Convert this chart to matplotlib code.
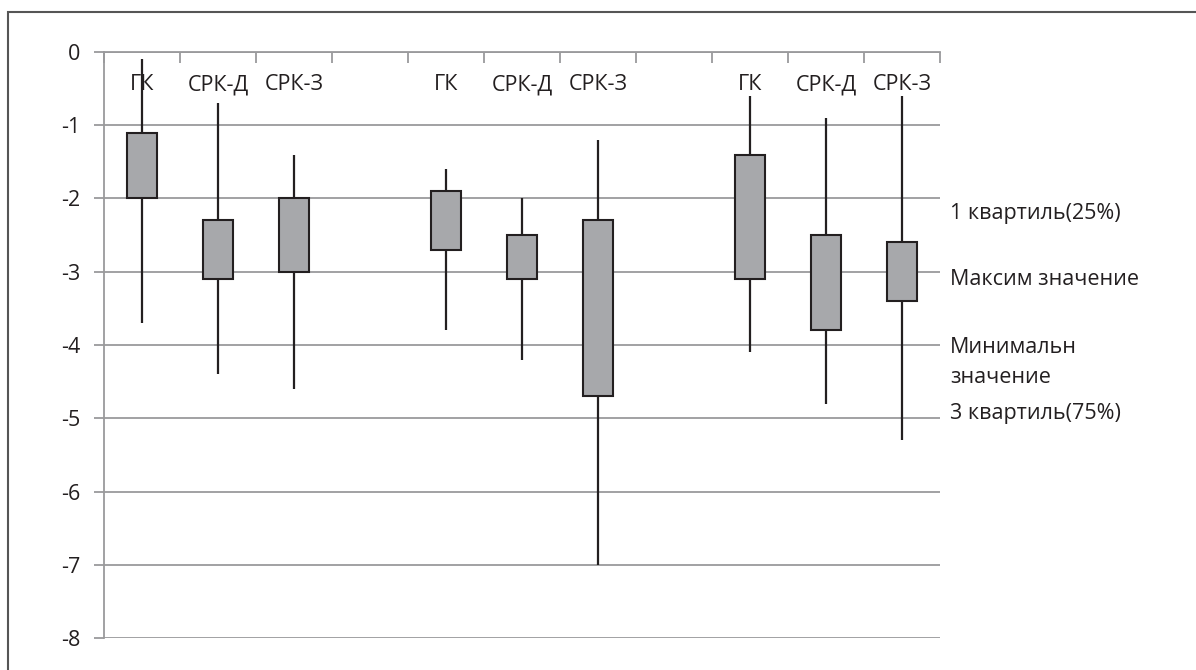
import matplotlib
matplotlib.use("Agg")
import matplotlib.pyplot as plt
from matplotlib.patches import Rectangle
from matplotlib.transforms import blended_transform_factory
import numpy as np

plt.rcParams['font.family'] = ['Open Sans', 'DejaVu Sans']

# Data (slots 3 and 7 are empty gaps between groups)
categories = ["ГК", "СРК-Д", "СРК-З", "", "ГК", "СРК-Д", "СРК-З", "", "ГК", "СРК-Д", "СРК-З"]
whisker_top = [-0.1, -0.7, -1.4, np.nan, -1.6, -2.0, -1.2, np.nan, -0.6, -0.9, -0.6]
box_top     = [-1.1, -2.3, -2.0, np.nan, -1.9, -2.5, -2.3, np.nan, -1.4, -2.5, -2.6]
box_bottom  = [-2.0, -3.1, -3.0, np.nan, -2.7, -3.1, -4.7, np.nan, -3.1, -3.8, -3.4]
whisker_bot = [-3.7, -4.4, -4.6, np.nan, -3.8, -4.2, -7.0, np.nan, -4.1, -4.8, -5.3]

legend_labels = ["1 квартиль(25%)", "Максим значение", "Минимальн", "значение", "3 квартиль(75%)"]
legend_y = [-2.2, -3.11, -4.03, -4.45, -4.93]

W, H = 1196, 670
FS = 15.5
fig = plt.figure(figsize=(W / 100, H / 100), dpi=100)
ax = fig.add_axes([104 / W, 1 - 638 / H, (940 - 104) / W, (638 - 52) / H])

x = np.arange(len(categories))
grid_col = "#9a9a9c"
dark = "#231f20"

# whiskers
ax.vlines(x, whisker_bot, whisker_top, colors=dark, linewidth=1.6, zorder=3)
# boxes
tops = np.array(box_top)
bots = np.array(box_bottom)
ax.bar(x, tops - bots, bottom=bots, width=0.39, color="#a7a8ab",
       edgecolor=dark, linewidth=1.5, zorder=4)

ax.set_xlim(-0.5, len(categories) - 0.5)
ax.set_ylim(-8, 0)
ax.set_yticks(np.arange(-8, 1, 1))
ax.set_yticklabels([str(v) for v in range(-8, 1)], fontsize=FS, color=dark)
ax.yaxis.grid(True, color=grid_col, linewidth=1.3)
ax.set_axisbelow(True)

ax.xaxis.tick_top()
ax.set_xticks(np.arange(-0.5, len(categories), 1.0))
ax.set_xticklabels([])
ax.tick_params(axis="x", direction="in", length=8, color=grid_col, width=1.3)
ax.tick_params(axis="y", direction="out", length=7, color=grid_col, width=1.3, pad=10)

for s in ["right", "bottom"]:
    ax.spines[s].set_visible(False)
for s in ["top", "left"]:
    ax.spines[s].set_color(grid_col)
    ax.spines[s].set_linewidth(1.3)

# category labels inside the plot near the top
for xi, lab in zip(x, categories):
    if lab:
        ax.text(xi, -0.45, lab, ha="center", va="center", fontsize=FS,
                color=dark, zorder=2)

# right-hand legend texts
tr = blended_transform_factory(fig.transFigure, ax.transData)
for lab, yv in zip(legend_labels, legend_y):
    fig.text(950 / W, yv, lab, transform=tr, ha="left", va="center",
             fontsize=FS, color=dark)

# outer frame
fig.patches.append(Rectangle((8 / W, -0.1), 1.2, 1 - 12 / H + 0.1,
                             transform=fig.transFigure, fill=False,
                             edgecolor="#555555", linewidth=1.5))

fig.savefig("out.png", dpi=100)
